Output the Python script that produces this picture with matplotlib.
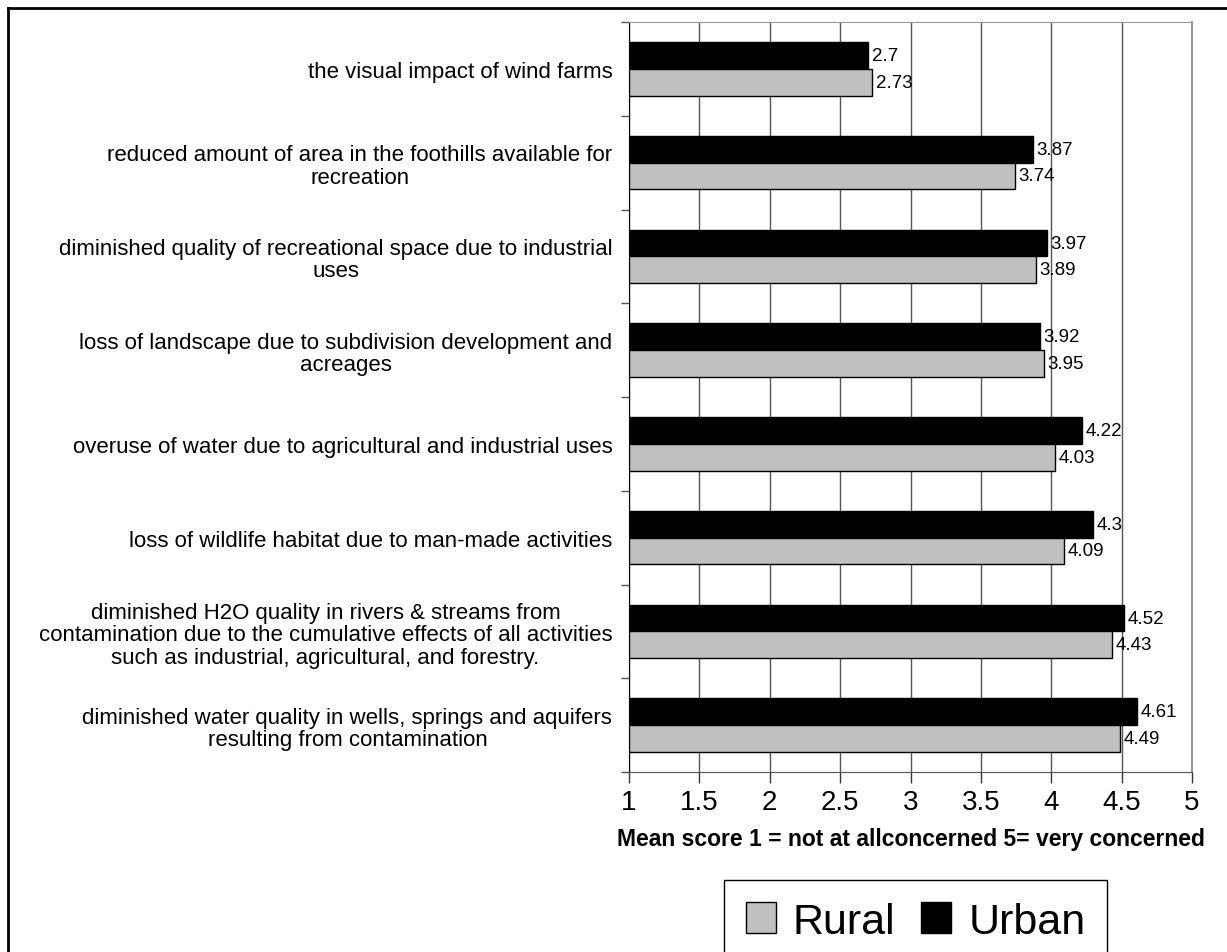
import numpy as np
import matplotlib
matplotlib.use("Agg")
import matplotlib.pyplot as plt
from matplotlib.lines import Line2D
from matplotlib.patches import Patch

plt.rcParams["font.family"] = ["Liberation Sans", "DejaVu Sans"]

# Data (top to bottom as shown)
categories = [
    "the visual impact of wind farms",
    "reduced amount of area in the foothills available for\nrecreation",
    "diminished quality of recreational space due to industrial\nuses",
    "loss of landscape due to subdivision development and\nacreages",
    "overuse of water due to agricultural and industrial uses",
    "loss of wildlife habitat due to man-made activities",
    "diminished H2O quality in rivers & streams from\ncontamination due to the cumulative effects of all activities\nsuch as industrial, agricultural, and forestry.",
    "diminished water quality in wells, springs and aquifers\nresulting from contamination",
]
urban = [2.7, 3.87, 3.97, 3.92, 4.22, 4.3, 4.52, 4.61]
rural = [2.73, 3.74, 3.89, 3.95, 4.03, 4.09, 4.43, 4.49]
x_ticks = [1, 1.5, 2, 2.5, 3, 3.5, 4, 4.5, 5]

W, H = 1227, 953
fig = plt.figure(figsize=(W / 100, H / 100), dpi=100)
ax = fig.add_axes([629 / W, 1 - 773 / H, (1192 - 629) / W, (773 - 23) / H])

y = np.arange(len(categories))
h = 0.285
base = 1
ax.barh(y - h / 2, np.array(urban) - base, left=base, height=h,
        color="black", edgecolor="black", linewidth=1, zorder=3)
ax.barh(y + h / 2, np.array(rural) - base, left=base, height=h,
        color="#c0c0c0", edgecolor="black", linewidth=1, zorder=3)

for yi, u, r in zip(y, urban, rural):
    ax.text(u + 0.025, yi - h / 2, f"{u:g}", va="center", ha="left", fontsize=13.5, zorder=4)
    ax.text(r + 0.025, yi + h / 2, f"{r:g}", va="center", ha="left", fontsize=13.5, zorder=4)

ax.set_xlim(1, 5)
ax.set_ylim(len(categories) - 0.5, -0.5)
ax.set_xticks(x_ticks)
ax.set_xticklabels([f"{t:g}" for t in x_ticks], fontsize=20)
ax.tick_params(axis="x", direction="out", length=8, width=1, color="#333333", pad=4)
ax.xaxis.grid(True, color="#555555", linewidth=1, zorder=0)

ax.set_yticks(y)
ax.set_yticklabels(categories, fontsize=16, ha="right", multialignment="center",
                   linespacing=1.1)
ax.tick_params(axis="y", which="major", length=0, pad=12)
ax.set_yticks(np.arange(len(categories) + 1) - 0.5, minor=True)
ax.tick_params(axis="y", which="minor", direction="out", length=6, width=1, color="#555555")

ax.spines["left"].set_color("black")
ax.spines["bottom"].set_color("#555555")
ax.spines["top"].set_color("#999999")
ax.spines["right"].set_color("#999999")
ax.spines["right"].set_linewidth(1.5)

ax.set_xlabel("Mean score 1 = not at allconcerned 5= very concerned",
              fontsize=16.5, fontweight="bold", labelpad=9)

# legend box, cut at the figure bottom
handles = [Patch(facecolor="#c0c0c0", edgecolor="black", label="Rural"),
           Patch(facecolor="black", edgecolor="black", label="Urban")]
fig.legend(handles=handles, loc="upper left", bbox_to_anchor=(724 / W, 1 - 881 / H),
           borderaxespad=0, ncol=2, fontsize=31, frameon=True, fancybox=False,
           edgecolor="black", handlelength=0.7, handleheight=0.7, handletextpad=0.4,
           columnspacing=0.6, borderpad=0.5, framealpha=1)

# outer frame (top and left)
fig.add_artist(Line2D([8 / W, 1], [1 - 9 / H, 1 - 9 / H], color="black", linewidth=2,
                      transform=fig.transFigure))
fig.add_artist(Line2D([8 / W, 8 / W], [1 - 9 / H, 0], color="black", linewidth=2,
                      transform=fig.transFigure))

fig.savefig("out.png", dpi=100)
